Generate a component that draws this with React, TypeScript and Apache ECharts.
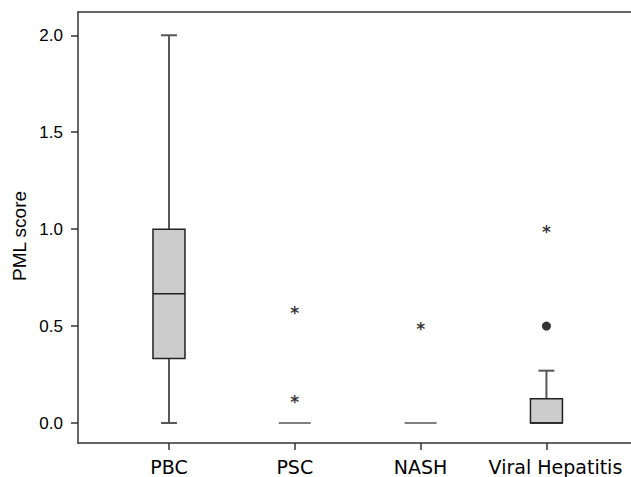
import React, { useEffect, useRef } from "react";
import * as echarts from "echarts";

const categories = ["PBC", "PSC", "NASH", "Viral Hepatitis"];
const boxMin = [0, 0, 0, 0];
const boxQ1 = [0.333, 0, 0, 0];
const boxMedian = [0.667, 0, 0, 0];
const boxQ3 = [1.0, 0, 0, 0.125];
const boxMax = [2.0, 0, 0, 0.27];
// extreme outliers (asterisks): [category index, value]
const extremeOutliers = [
  [1, 0.583],
  [1, 0.125],
  [2, 0.5],
  [3, 1.0],
];
// outliers (dots)
const outliers = [[3, 0.5]];
const yTicks = [0, 0.5, 1.0, 1.5, 2.0];
const xTicks = [0, 1, 2, 3];

export default function App() {
  const ref = useRef<HTMLDivElement>(null);
  useEffect(() => {
    document.body.style.margin = "0";
    if (!ref.current) return;
    const chart = echarts.init(ref.current, null, { renderer: "svg" });
    const boxRows = categories.map((_, i) => [
      i,
      boxMin[i],
      boxQ1[i],
      boxMedian[i],
      boxQ3[i],
      boxMax[i],
    ]);
    const axisColor = "#333";
    const option = {
      animation: false,
      backgroundColor: "#fff",
      grid: { left: 78, right: 0, top: 12, bottom: 34 },
      xAxis: [
        {
          type: "value",
          min: -0.723,
          max: 3.672,
          splitLine: { show: false },
          axisLine: { show: true, onZero: false, lineStyle: { color: axisColor, width: 1.5 } },
          axisTick: {
            show: true,
            length: 7,
            customValues: xTicks,
            lineStyle: { color: axisColor, width: 1.5 },
          },
          axisLabel: {
            show: true,
            customValues: xTicks,
            margin: 14,
            color: "#000",
            fontSize: 19,
            fontFamily: "DejaVu Sans",
            formatter: (v: number) => {
              const idx = Math.round(v);
              if (idx === 3) return "{vh|" + categories[idx] + "}";
              return categories[idx] ?? "";
            },
            rich: {
              vh: {
                padding: [0, 0, 0, 18],
                fontSize: 19,
                fontFamily: "DejaVu Sans",
                color: "#000",
              },
            },
          },
        },
        {
          type: "value",
          position: "top",
          min: -0.723,
          max: 3.672,
          splitLine: { show: false },
          axisLine: { show: true, onZero: false, lineStyle: { color: axisColor, width: 1.5 } },
          axisTick: { show: false },
          axisLabel: { show: false },
        },
      ],
      yAxis: {
        type: "value",
        min: -0.103,
        max: 2.12,
        splitLine: { show: false },
        axisLine: { show: true, onZero: false, lineStyle: { color: axisColor, width: 1.5 } },
        axisTick: {
          show: true,
          length: 7,
          customValues: yTicks,
          lineStyle: { color: axisColor, width: 1.5 },
        },
        axisLabel: {
          customValues: yTicks,
          margin: 15,
          color: "#000",
          fontSize: 17,
          fontFamily: "Liberation Sans",
          formatter: (v: number) => v.toFixed(1),
        },
      },
      graphic: [
        {
          type: "text",
          x: 19,
          y: 236,
          rotation: Math.PI / 2,
          style: {
            text: "PML score",
            fontSize: 19,
            fontFamily: "Liberation Sans",
            fill: "#000",
            align: "center",
            verticalAlign: "middle",
          },
        },
      ],
      series: [
        {
          type: "custom",
          xAxisIndex: 0,
          encode: { x: 0, y: [1, 2, 3, 4, 5] },
          data: boxRows,
          renderItem: (params: any, api: any) => {
            const i = api.value(0);
            const mn = api.value(1);
            const q1 = api.value(2);
            const med = api.value(3);
            const q3 = api.value(4);
            const mx = api.value(5);
            const [cx, yMin] = api.coord([i, mn]);
            const yQ1 = api.coord([i, q1])[1];
            const yMed = api.coord([i, med])[1];
            const yQ3 = api.coord([i, q3])[1];
            const yMax = api.coord([i, mx])[1];
            const half = 16;
            const cap = 8;
            const whisker = { stroke: "#555", lineWidth: 2 };
            const border = { stroke: "#222", lineWidth: 1.5 };
            const children: any[] = [];
            if (mx > q3) {
              children.push({ type: "line", shape: { x1: cx, y1: yQ3, x2: cx, y2: yMax }, style: whisker });
              children.push({ type: "line", shape: { x1: cx - cap, y1: yMax, x2: cx + cap, y2: yMax }, style: whisker });
            }
            if (mn < q1) {
              children.push({ type: "line", shape: { x1: cx, y1: yQ1, x2: cx, y2: yMin }, style: whisker });
              children.push({ type: "line", shape: { x1: cx - cap, y1: yMin, x2: cx + cap, y2: yMin }, style: whisker });
            }
            if (q3 > q1) {
              children.push({
                type: "rect",
                shape: { x: cx - half, y: yQ3, width: half * 2, height: yQ1 - yQ3 },
                style: { fill: "#cccccc", ...border },
              });
              children.push({ type: "line", shape: { x1: cx - half, y1: yMed, x2: cx + half, y2: yMed }, style: border });
            } else {
              children.push({
                type: "line",
                shape: { x1: cx - half, y1: yMed, x2: cx + half, y2: yMed },
                style: { stroke: "#555", lineWidth: 1.5 },
              });
            }
            return { type: "group", children };
          },
        },
        {
          type: "scatter",
          xAxisIndex: 0,
          data: extremeOutliers,
          symbol: "circle",
          symbolSize: 1,
          itemStyle: { color: "rgba(0,0,0,0)" },
          label: {
            show: true,
            formatter: "*",
            position: "inside",
            offset: [0, 3],
            fontSize: 17,
            fontWeight: "bold",
            fontFamily: "DejaVu Sans",
            color: "#000",
          },
        },
        {
          type: "scatter",
          xAxisIndex: 0,
          data: outliers,
          symbol: "circle",
          symbolSize: 9,
          itemStyle: { color: "#000" },
        },
      ],
    };
    chart.setOption(option as any);
    return () => chart.dispose();
  }, []);
  return <div ref={ref} style={{ width: 631, height: 477 }} />;
}
